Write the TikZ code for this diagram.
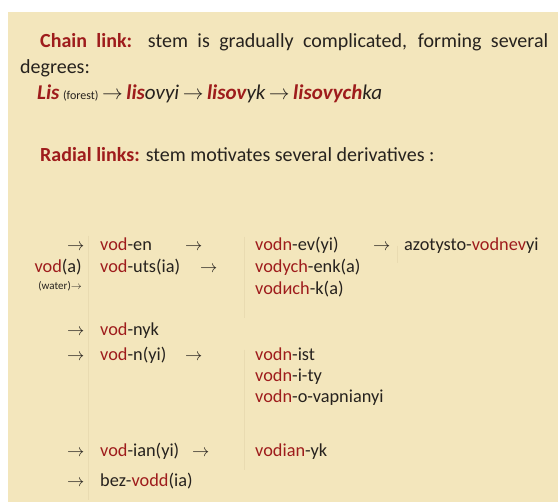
\documentclass[tikz,border=0pt]{standalone}
\usepackage{fontspec}
\setmainfont{Carlito}
\usepackage{tikz}
\usetikzlibrary{positioning}

\definecolor{slidebg}{RGB}{243, 230, 188}
\definecolor{stemred}{RGB}{158, 28, 28}
\definecolor{inkgray}{RGB}{38, 34, 30}
\definecolor{cellrule}{RGB}{233, 219, 177}

\newcommand{\stem}[1]{\textcolor{stemred}{#1}}
\newcommand{\toarr}{$\rightarrow$}

\begin{document}
\begin{tikzpicture}[x=1pt, y=-1pt,
  txt/.style={anchor=base west, inner sep=0pt, text=inkgray, font=\fontsize{20}{23}\selectfont},
  word/.style={txt, font=\fontsize{18.3}{21}\selectfont},
  small/.style={anchor=base east, inner sep=0pt, text=inkgray, font=\fontsize{11}{12}\selectfont},
  rule/.style={draw=cellrule, line width=0.8pt}
]
  \useasboundingbox (0,0) rectangle (558,502);
  \fill[slidebg] (8,12) rectangle (558,502);

  % Chain link
  \node[txt] (chain) at (40,48) {\makebox[508pt][s]{\stem{\bfseries Chain link:} stem is gradually complicated, forming several}};
  \node[txt] (degr) at (20,74) {degrees:};
  \node[txt, font=\fontsize{21}{23}\selectfont] (lis) at (37,100) {\itshape\stem{\bfseries Lis}\,{\upshape\fontsize{12}{13}\selectfont(forest)}\,\toarr\,\stem{\bfseries lis}ovyi\,\toarr\,\stem{\bfseries lisov}yk\,\toarr\,\stem{\bfseries lisovych}ka};

  % Radial links
  \node[txt] (radial) at (40,162) {\stem{\bfseries Radial links:} stem motivates several derivatives :};

  % cell rules
  \draw[rule] (88,236) -- (88,500);
  \draw[rule] (244,237) -- (244,318);
  \draw[rule] (244,350) -- (244,470);
  \draw[rule] (397,246) -- (397,263);

  % stem
  \node[word, anchor=base east] (voda) at (82,273) {\stem{vod}(a)};
  \node[small] (water) at (82,290) {(water)\toarr};

  % derivatives of the first degree
  \node[word] (a1) at (67,251) {\toarr};
  \node[word] (voden) at (100,251) {\stem{vod}-en};
  \node[word] (voduts) at (100,273) {\stem{vod}-uts(ia)};
  \node[word] (a4) at (67,336) {\toarr};
  \node[word] (vodnyk) at (100,336) {\stem{vod}-nyk};
  \node[word] (a5) at (67,361) {\toarr};
  \node[word] (vodnyi) at (100,361) {\stem{vod}-n(yi)};
  \node[word] (a6) at (67,457) {\toarr};
  \node[word] (vodian) at (100,457) {\stem{vod}-ian(yi)};
  \node[word] (a7) at (67,487) {\toarr};
  \node[word] (bezvod) at (100,487) {bez-\stem{vodd}(ia)};

  % second degree
  \node[word] (b1) at (185,251) {\toarr};
  \node[word] (b2) at (200,273) {\toarr};
  \node[word] (b5) at (185,361) {\toarr};
  \node[word] (b6) at (192,457) {\toarr};
  \node[word] (vodnev) at (255,251) {\stem{vodn}-ev(yi)};
  \node[word] (vodych) at (255,273) {\stem{vodych}-enk(a)};
  \node[word] (vodich) at (255,295) {\stem{vodиch}-k(a)};
  \node[word] (vodnist) at (255,361) {\stem{vodn}-ist};
  \node[word] (vodnity) at (255,382) {\stem{vodn}-i-ty};
  \node[word] (vodnovap) at (255,403) {\stem{vodn}-o-vapnianyi};
  \node[word] (vodianyk) at (255,457) {\stem{vodian}-yk};

  % third degree
  \node[word] (c1) at (373,251) {\toarr};
  \node[word] (azot) at (404,251) {azotysto-\stem{vodnev}yi};
\end{tikzpicture}
\end{document}
